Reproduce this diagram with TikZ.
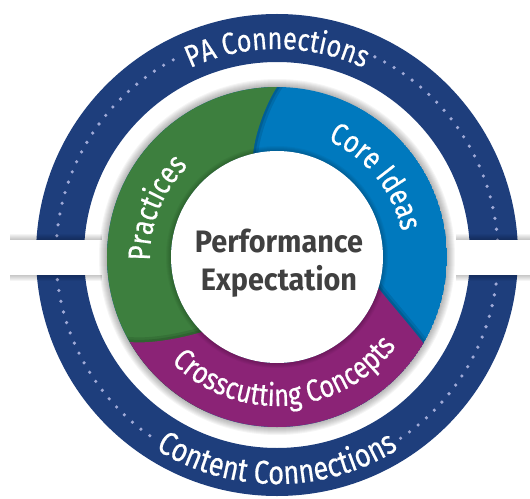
\documentclass[tikz,border=0pt]{standalone}
\usepackage{fontspec}
\usepackage{tikz}
\usepackage{xcolor}
\setmainfont{Fira Sans}
\newfontfamily\ringfont[FakeStretch=0.82, FakeBold=0.5]{Fira Sans}
\newfontfamily\midfont[FakeStretch=0.93]{Fira Sans}
\usetikzlibrary{decorations.text}

\definecolor{ringnavy}{RGB}{30,62,124}
\definecolor{ringgreen}{RGB}{61,127,62}
\definecolor{ringblue}{RGB}{0,121,190}
\definecolor{ringpurple}{RGB}{139,35,118}
\definecolor{dotblue}{RGB}{160,170,215}
\definecolor{midgray}{RGB}{64,64,64}

\tikzstyle{ringtext} = [decorate,
                        decoration={text along path,
                                    text align=center,
                                    text color=white}]
\tikzstyle{ringdot} = [fill=dotblue]
\tikzstyle{softshadow} = [fill=black,
                          opacity=0.04]
\tikzstyle{castshadow} = [preaction={draw=black, opacity=0.10, line width=10pt},
                          preaction={draw=black, opacity=0.12, line width=5pt}]
\tikzstyle{centerlabel} = [anchor=base,
                           text=midgray,
                           font=\midfont\bfseries\fontsize{31}{31}\selectfont]

\begin{document}
\begin{tikzpicture}[x=1pt, y=1pt]

    \useasboundingbox (-277,-241) rectangle (253,257);
    \coordinate (o)  at (0,0);
    \coordinate (ob) at (0,2);

    % outer ring with dots
    \fill[ringnavy, even odd rule] (ob) circle (241) (ob) circle (193);
    \foreach \a in {118,120.85,...,236}
        \fill[ringdot] ([shift={(ob)}]\a:221) circle (1.8);
    \foreach \a in {-56,-53.15,...,64}
        \fill[ringdot] ([shift={(ob)}]\a:221) circle (1.8);

    % side bars
    \foreach \k in {1,...,6} {
        \fill[softshadow] (-267,17+\k) rectangle (-175,-18-\k);
        \fill[softshadow] (179,17+\k) rectangle (253,-18-\k);
    }
    \fill[white] (-267,17) rectangle (-175,-18);
    \fill[white] (179,17) rectangle (253,-18);

    % shadow round the coloured ring
    \foreach \k in {1,...,8}
        \fill[softshadow] (o) circle (170+\k);

    \begin{scope}
        \clip (o) circle (170);
        \fill[ringblue] (o) circle (170);
        % practices
        \fill[ringgreen, castshadow]
            (90:170) arc[start angle=90, end angle=245, radius=170]
            -- (245:106) arc[start angle=245, end angle=103, radius=106]
            .. controls (-22,125) and (-10,155) .. (90:170) -- cycle;
        % crosscutting concepts
        \fill[ringpurple, castshadow]
            (210:170) arc[start angle=210, end angle=329.5, radius=170]
            .. controls (136,-72) and (112,-45) .. (343:106)
            arc[start angle=343, end angle=225, radius=106]
            .. controls (-95,-81) and (-125,-87) .. (210:170) -- cycle;
    \end{scope}

    % centre disc
    \foreach \k in {1,...,5}
        \fill[softshadow] (o) circle (106+\k);
    \fill[white] (o) circle (106);

    \node (perf)   [centerlabel] at (2,5)   {Performance};
    \node (expect) [centerlabel] at (2,-33) {Expectation};

    % ring labels
    \path[ringtext, decoration={text={|\ringfont\fontsize{31}{31}\selectfont|PA Connections}}]
        ([shift={(ob)}]150:206) arc[start angle=150, end angle=30, radius=206];
    \path[ringtext, decoration={text={|\ringfont\fontsize{33}{33}\selectfont|Content Connections}}]
        ([shift={(ob)}]200:229) arc[start angle=200, end angle=340, radius=229];
    \path[ringtext, decoration={text={|\ringfont\fontsize{31}{31}\selectfont|Practices}}]
        (218:127) arc[start angle=218, end angle=98, radius=127];
    \path[ringtext, decoration={text={|\ringfont\fontsize{31}{31}\selectfont|Core Ideas}}]
        (99:127) arc[start angle=99, end angle=-21, radius=127];
    \path[ringtext, decoration={text={|\ringfont\fontsize{31}{31}\selectfont|Crosscutting Concepts}}]
        (184:149) arc[start angle=184, end angle=364, radius=149];

\end{tikzpicture}
\end{document}
